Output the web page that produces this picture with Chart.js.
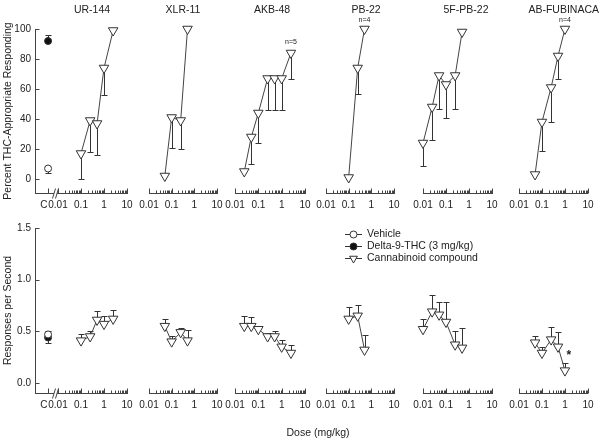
<!DOCTYPE html>
<html>
<head>
<meta charset="utf-8">
<script src="https://cdn.jsdelivr.net/npm/chart.js@4.4.0/dist/chart.umd.min.js"></script>
<style>
  body { margin: 0; background: #fff; }
  #wrap { position: relative; width: 600px; height: 443px; }
  #wrap canvas { position: absolute; left: 0; top: 0; }
</style>
</head>
<body>
<div id="wrap"></div>
<script>
// compounds, left to right
const compounds = ['UR-144', 'XLR-11', 'AKB-48', 'PB-22', '5F-PB-22', 'AB-FUBINACA'];

// doses (mg/kg)
const doseUR144 = [0.1, 0.25, 0.5, 1, 2.5];
const doseXLR11 = [0.05, 0.1, 0.25, 0.5];
const doseAKB48 = [0.025, 0.05, 0.1, 0.25, 0.5, 1, 2.5];
const dosePB22 = [0.1, 0.25, 0.5];
const dose5FPB22 = [0.01, 0.025, 0.05, 0.1, 0.25, 0.5];
const doseABFUB = [0.05, 0.1, 0.25, 0.5, 1];

// percent THC-appropriate responding, mean and SEM
const thcUR144 = [17, 39, 37, 74, 99];
const thcUR144Sem = [17, 21, 21, 18, 0];
const thcXLR11 = [2, 41, 39, 100];
const thcXLR11Sem = [0, 20, 19, 0];
const thcAKB48 = [5, 28, 44, 67, 67, 67, 84];
const thcAKB48Sem = [0, 18, 20, 21, 21, 21, 17];
const thcPB22 = [1, 74, 100];
const thcPB22Sem = [0, 17, 0];
const thc5FPB22 = [24, 48, 69, 63, 69, 98];
const thc5FPB22Sem = [15, 22, 22, 22, 22, 0];
const thcABFUB = [3, 38, 61, 82, 100];
const thcABFUBSem = [0, 19, 23, 15, 0];

// responses per second, mean and SEM
const rateUR144 = [0.41, 0.45, 0.61, 0.57, 0.62];
const rateUR144Sem = [0.06, 0.05, 0.09, 0.08, 0.09];
const rateXLR11 = [0.55, 0.40, 0.49, 0.41];
const rateXLR11Sem = [0.07, 0.05, 0.04, 0.10];
const rateAKB48 = [0.55, 0.55, 0.52, 0.45, 0.45, 0.35, 0.29];
const rateAKB48Sem = [0.10, 0.09, 0.02, 0.03, 0.05, 0.07, 0.08];
const ratePB22 = [0.62, 0.65, 0.32];
const ratePB22Sem = [0.12, 0.10, 0.14];
const rate5FPB22 = [0.52, 0.69, 0.66, 0.59, 0.37, 0.34];
const rate5FPB22Sem = [0.10, 0.16, 0.12, 0.19, 0.13, 0.19];
const rateABFUB = [0.39, 0.29, 0.42, 0.35, 0.12];
const rateABFUBSem = [0.06, 0.06, 0.12, 0.14, 0.07];

// control points (C)
const vehicleThc = 7, vehicleThcSem = 3;
const deltaThc = 92, deltaThcSem = 4;
const vehicleRate = 0.47, vehicleRateSem = 0.03;
const deltaRate = 0.44, deltaRateSem = 0.05;

// ticks and labels
const doseTicks = [0.01, 0.1, 1, 10];
const thcTicks = [0, 20, 40, 60, 80, 100];
const rateTicks = [0, 0.5, 1.0, 1.5];
const legendLabels = ['Vehicle', 'Delta-9-THC (3 mg/kg)', 'Cannabinoid compound'];

const doseList = [doseUR144, doseXLR11, doseAKB48, dosePB22, dose5FPB22, doseABFUB];
const thcList = [thcUR144, thcXLR11, thcAKB48, thcPB22, thc5FPB22, thcABFUB];
const thcSemList = [thcUR144Sem, thcXLR11Sem, thcAKB48Sem, thcPB22Sem, thc5FPB22Sem, thcABFUBSem];
const rateList = [rateUR144, rateXLR11, rateAKB48, ratePB22, rate5FPB22, rateABFUB];
const rateSemList = [rateUR144Sem, rateXLR11Sem, rateAKB48Sem, ratePB22Sem, rate5FPB22Sem, rateABFUBSem];

// layout (page pixels)
const cDose = 0.0037;
const panelLeft = [57, 149, 235, 326, 423, 519];
const panelRight = [127, 217, 305, 394, 492, 588];
const titleX = [92, 183, 272, 366, 466, 566];
const rowBox = {
  top: { areaTop: 29, axisY: 193, min: -9.33, max: 100 },
  bottom: { areaTop: 228, axisY: 393, min: -0.0968, max: 1.5 }
};

const ink = '#333';
const axisInk = '#444';
const fontReg = "'Liberation Sans', Arial, Helvetica, sans-serif";

const wrap = document.getElementById('wrap');
const meta = new Map();

function line(ctx, x1, y1, x2, y2) {
  ctx.beginPath();
  ctx.moveTo(x1, y1);
  ctx.lineTo(x2, y2);
  ctx.stroke();
}

const decor = {
  id: 'decor',
  beforeDatasetsDraw(chart) {
    const m = meta.get(chart.canvas);
    if (!m) return;
    const ctx = chart.ctx, xs = chart.scales.x, ys = chart.scales.y;
    ctx.save();
    ctx.strokeStyle = ink;
    ctx.lineWidth = 1;
    chart.data.datasets.forEach((ds, k) => {
      const e = m.errors[k];
      if (!e) return;
      ds.data.forEach((p, j) => {
        const s = e.sem[j];
        if (!s) return;
        const x = Math.round(xs.getPixelForValue(p.x)) + 0.5;
        const y0 = ys.getPixelForValue(p.y);
        const y1 = Math.round(ys.getPixelForValue(p.y + e.dir * s)) + 0.5;
        line(ctx, x, y0, x, y1);
        line(ctx, x - 3, y1, x + 3, y1);
      });
    });
    ctx.restore();
  },
  afterDraw(chart) {
    const m = meta.get(chart.canvas);
    if (!m) return;
    const ctx = chart.ctx, xs = chart.scales.x, ys = chart.scales.y;
    const area = chart.chartArea;
    const axisY = Math.round(area.bottom) + 0.5;
    ctx.save();
    ctx.strokeStyle = axisInk;
    ctx.lineWidth = 1;
    const tick = (v, len) => {
      const x = Math.round(xs.getPixelForValue(v)) + 0.5;
      line(ctx, x, axisY, x, axisY - len);
    };
    for (let e = -2; e <= 0; e++) {
      for (let k = 2; k <= 9; k++) tick(k * Math.pow(10, e), 3);
    }
    doseTicks.forEach(v => tick(v, 5));
    if (m.first) {
      tick(cDose, 5);
      const ax = Math.round(area.left) + 0.5;
      m.yTicks.forEach(v => {
        const y = Math.round(ys.getPixelForValue(v)) + 0.5;
        line(ctx, ax, y, ax + 4, y);
      });
      // axis break between C and 0.01
      const bx = Math.round(xs.getPixelForValue(0.01)) - 3;
      ctx.fillStyle = '#fff';
      ctx.fillRect(bx - 1, axisY - 1.5, 3, 3);
      [bx - 1, bx + 2].forEach(x => line(ctx, x - 1.5, axisY + 5, x + 1.5, axisY - 5));
    }
    ctx.fillStyle = '#222';
    if (m.title) {
      ctx.font = '10.5px ' + fontReg;
      ctx.textBaseline = 'middle';
      ctx.textAlign = 'center';
      const w = ctx.measureText(m.title).width;
      const tx = Math.min(m.titleX, 599 - w / 2);
      ctx.fillText(m.title, tx, 10);
    }
    m.notes.forEach(n => {
      const ds = chart.data.datasets[n.ds];
      const p = ds.data[n.idx];
      ctx.font = n.font;
      ctx.textAlign = 'center';
      ctx.textBaseline = 'middle';
      ctx.fillText(n.text, xs.getPixelForValue(p.x) + n.dx, ys.getPixelForValue(p.y) + n.dy);
    });
    if (m.legend) {
      const rowsY = [234, 246, 258];
      const styles = [
        { pointStyle: 'circle', radius: 3.5, rotation: 0, borderWidth: 1, fill: '#fff' },
        { pointStyle: 'circle', radius: 3.5, rotation: 0, borderWidth: 1, fill: '#111' },
        { pointStyle: 'triangle', radius: 4.5, rotation: 180, borderWidth: 1, fill: '#fff' }
      ];
      legendLabels.forEach((lab, k) => {
        const y = rowsY[k];
        ctx.strokeStyle = ink;
        line(ctx, 345, y + 0.5, 362, y + 0.5);
        ctx.fillStyle = styles[k].fill;
        Chart.helpers.drawPoint(ctx, styles[k], 353.5, y + 0.5);
        ctx.fillStyle = '#222';
        ctx.font = '10.5px ' + fontReg;
        ctx.textAlign = 'left';
        ctx.textBaseline = 'middle';
        ctx.fillText(lab, 367, y);
      });
      ctx.font = '10.5px ' + fontReg;
      ctx.textAlign = 'center';
      ctx.fillText('Dose (mg/kg)', 318, 433);
    }
    ctx.restore();
  }
};
Chart.register(decor);

function doseLabel(v) {
  // trailing spaces nudge the C label left of its tick, clear of 0.01
  if (Math.abs(v - cDose) < 1e-6) return 'C   ';
  return String(v);
}

function buildPanel(row, i) {
  const top = row === 'top';
  const first = i === 0;
  const box = rowBox[row];
  const canvas = document.createElement('canvas');
  canvas.width = 600;
  canvas.height = 443;
  wrap.appendChild(canvas);

  const datasets = [];
  const errors = [];
  const ctrl = (y, fill) => ({
    data: [{ x: cDose, y }],
    showLine: false,
    pointStyle: 'circle',
    pointRadius: 3.5,
    pointBackgroundColor: fill,
    pointBorderColor: ink,
    pointBorderWidth: 1,
    clip: false
  });
  if (first) {
    datasets.push(ctrl(top ? vehicleThc : vehicleRate, '#fff'));
    errors.push({ sem: [top ? vehicleThcSem : vehicleRateSem], dir: top ? -1 : 1 });
    datasets.push(ctrl(top ? deltaThc : deltaRate, '#111'));
    errors.push({ sem: [top ? deltaThcSem : deltaRateSem], dir: top ? 1 : -1 });
  }
  const vals = top ? thcList[i] : rateList[i];
  const sems = top ? thcSemList[i] : rateSemList[i];
  const mainIdx = datasets.length;
  datasets.push({
    data: doseList[i].map((d, j) => ({ x: d, y: vals[j] })),
    borderColor: '#444',
    borderWidth: 1,
    tension: 0,
    pointStyle: 'triangle',
    pointRotation: 180,
    pointRadius: 5.5,
    pointBackgroundColor: '#fff',
    pointBorderColor: ink,
    pointBorderWidth: 1,
    clip: false
  });
  errors.push({ sem: sems, dir: top ? -1 : 1 });

  const notes = [];
  if (top && i === 2) notes.push({ ds: mainIdx, idx: 6, text: 'n=5', dx: 0, dy: -11, font: '7px ' + fontReg });
  if (top && i === 3) notes.push({ ds: mainIdx, idx: 2, text: 'n=4', dx: 0, dy: -9, font: '7px ' + fontReg });
  if (top && i === 5) notes.push({ ds: mainIdx, idx: 4, text: 'n=4', dx: 0, dy: -9, font: '7px ' + fontReg });
  if (!top && i === 5) notes.push({ ds: mainIdx, idx: 4, text: '*', dx: 4, dy: -15, font: 'bold 12px ' + fontReg });

  meta.set(canvas, {
    first,
    errors,
    notes,
    yTicks: top ? thcTicks : rateTicks,
    title: top ? compounds[i] : null,
    titleX: titleX[i],
    legend: !top && i === 3
  });

  const yAxisW = first ? 35 : 0;
  const areaLeft = first ? 35 : panelLeft[i];
  const xTicks = first ? [cDose].concat(doseTicks) : doseTicks;
  const yTickVals = top ? thcTicks : rateTicks;

  new Chart(canvas, {
    type: 'line',
    data: { datasets },
    options: {
      responsive: false,
      animation: false,
      events: [],
      layout: {
        padding: { left: areaLeft - yAxisW, right: 600 - panelRight[i], top: box.areaTop, bottom: 443 - box.axisY - 20 }
      },
      scales: {
        x: {
          type: 'logarithmic',
          min: first ? 0.001 : 0.01,
          max: 10,
          grid: { display: false, drawTicks: false },
          border: { display: true, color: axisInk, width: 1 },
          afterBuildTicks: s => { s.ticks = xTicks.map(v => ({ value: v })); },
          afterFit: s => { s.height = 20; },
          ticks: {
            autoSkip: false,
            maxRotation: 0,
            minRotation: 0,
            padding: 6.5,
            color: '#222',
            font: { family: fontReg, size: 10 },
            callback: v => doseLabel(v)
          }
        },
        y: {
          type: 'linear',
          display: first,
          min: box.min,
          max: box.max,
          grid: { display: false, drawTicks: false },
          border: { display: true, color: axisInk, width: 1 },
          afterBuildTicks: s => { s.ticks = yTickVals.map(v => ({ value: v })); },
          afterFit: s => { s.width = yAxisW; },
          title: {
            display: first,
            text: top ? 'Percent THC-Appropriate Responding' : 'Responses per Second',
            color: '#222',
            font: { family: fontReg, size: 10.5 },
            padding: { top: 1.5, bottom: 0 }
          },
          ticks: {
            padding: 4,
            color: '#222',
            font: { family: fontReg, size: 10 },
            callback: v => top ? String(v) : v.toFixed(1)
          }
        }
      },
      plugins: {
        legend: { display: false },
        tooltip: { enabled: false }
      }
    }
  });
}

['top', 'bottom'].forEach(row => {
  compounds.forEach((c, i) => buildPanel(row, i));
});
</script>
</body>
</html>
